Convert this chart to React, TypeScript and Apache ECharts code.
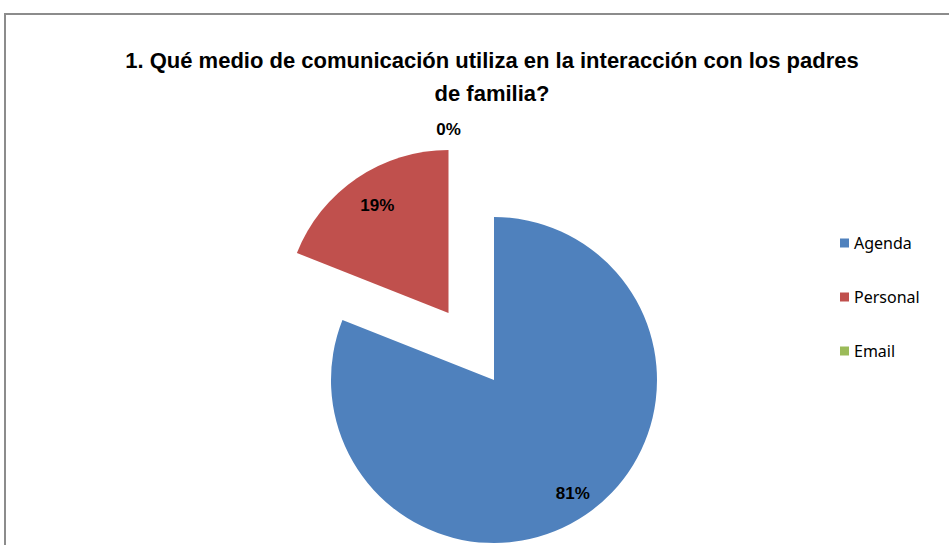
import React, { useEffect, useRef } from "react";
import * as echarts from "echarts";

const titleLines = [
  "1. Qué medio de comunicación utiliza en la interacción con los padres",
  "de familia?",
];
const categories = ["Agenda", "Personal", "Email"];
const values = [81, 19, 0];
const colors = ["#4f81bd", "#c0504d", "#9bbb59"];
const explodedIndex = 1;

export default function App() {
  const ref = useRef<HTMLDivElement>(null);
  useEffect(() => {
    document.body.style.margin = "0";
    const chart = echarts.init(ref.current!, null, { renderer: "svg" });
    const cx = 494;
    const cy = 380;
    const r = 163;
    const explode = 81;
    const total = values.reduce((a, b) => a + b, 0);
    const mids: number[] = [];
    let acc = 0;
    values.forEach((v) => {
      mids.push(((acc + v / 2) / total) * Math.PI * 2);
      acc += v;
    });
    const exMid = mids[explodedIndex];
    const exDx = explode * Math.sin(exMid);
    const exDy = -explode * Math.cos(exMid);
    const labelFrac = [0.82, 0.78, 0];

    chart.setOption({
      animation: false,
      backgroundColor: "#ffffff",
      title: {
        text: titleLines.join("\n"),
        left: 487,
        top: 39,
        textAlign: "center",
        textStyle: {
          fontFamily: "'Liberation Sans Narrow', 'Liberation Sans', sans-serif",
          fontWeight: "bold",
          fontSize: 22,
          lineHeight: 33,
          color: "#000000",
        },
      },
      legend: {
        orient: "vertical",
        left: 835,
        top: 230,
        itemWidth: 9,
        itemHeight: 9,
        itemGap: 38,
        icon: "rect",
        data: categories,
        textStyle: {
          fontFamily: "'Noto Sans', sans-serif",
          fontSize: 16,
          color: "#000000",
        },
        selectedMode: false,
      },
      graphic: [
        {
          type: "rect",
          shape: { x: 5, y: 14, width: 1000, height: 600 },
          style: { fill: "none", stroke: "#8c8c8c", lineWidth: 2 },
          silent: true,
        },
      ],
      series: [
        {
          type: "pie",
          center: [cx, cy],
          radius: r,
          startAngle: 90,
          clockwise: true,
          selectedMode: "multiple",
          selectedOffset: explode,
          percentPrecision: 0,
          emphasis: { disabled: true },
          label: {
            show: true,
            position: "inside",
            formatter: "{d}%",
            fontFamily: "'Liberation Sans', sans-serif",
            fontWeight: "bold",
            fontSize: 17,
            color: "#000000",
          },
          labelLine: { show: false },
          labelLayout: (params: any) => {
            const i = params.dataIndex;
            if (values[i] === 0) {
              return { dx: exDx, dy: exDy - r / 2 - 18 };
            }
            const extra = r * (labelFrac[i] - 0.5);
            return { dx: extra * Math.sin(mids[i]) + 2, dy: -extra * Math.cos(mids[i]) };
          },
          data: categories.map((name, i) => ({
            name,
            value: values[i],
            selected: i === explodedIndex,
            itemStyle: { color: colors[i] },
          })),
        },
      ],
    });
    return () => chart.dispose();
  }, []);
  return <div ref={ref} style={{ width: 949, height: 545 }} />;
}
